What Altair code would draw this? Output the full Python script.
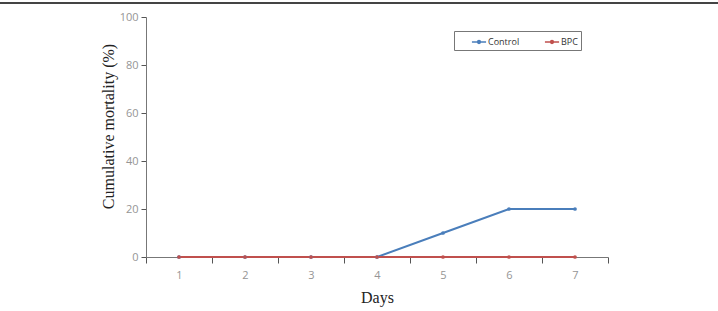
import altair as alt
import pandas as pd

days = [1, 2, 3, 4, 5, 6, 7]
control = [0, 0, 0, 0, 10, 20, 20]
bpc = [0, 0, 0, 0, 0, 0, 0]
series_names = ["Control", "BPC"]
colors = ["#4a7ebb", "#c0504d"]

rows = []
for d, c in zip(days, control):
    rows.append({"Days": str(d), "value": c, "series": "Control"})
for d, b in zip(days, bpc):
    rows.append({"Days": str(d), "value": b, "series": "BPC"})
df = pd.DataFrame(rows)

label_font = "Open Sans"
title_font = "Liberation Serif"

x = alt.X("Days:O", sort=[str(d) for d in days],
          scale=alt.Scale(type="band", paddingInner=0, paddingOuter=0),
          axis=alt.Axis(title="Days", labelAngle=0, tickBand="extent",
                        labelFont=label_font, labelFontSize=11, labelColor="#959595",
                        labelPadding=6, tickSize=6, tickColor="#555", domainColor="#777",
                        titleFont=title_font, titleFontSize=16, titleFontWeight="normal",
                        titleColor="#222", titleY=40, titleBaseline="middle", grid=False))
y = alt.Y("value:Q", scale=alt.Scale(domain=[0, 100]),
          axis=alt.Axis(title="Cumulative mortality (%)", values=[0, 20, 40, 60, 80, 100],
                        labelFont=label_font, labelFontSize=11, labelColor="#959595",
                        labelPadding=3, tickSize=5, tickColor="#555", domainColor="#777",
                        titleFont=title_font, titleFontSize=16, titleFontWeight="normal",
                        titleColor="#222", titleX=-38, titleY=109, titleAngle=270,
                        titleAlign="center", titleBaseline="middle", grid=False))

symbol_path = "M-1,0H1M-0.2,0A0.2,0.2 0 1,0 0.2,0A0.2,0.2 0 1,0 -0.2,0Z"

color = alt.Color("series:N", sort=series_names,
                  scale=alt.Scale(domain=series_names, range=colors),
                  legend=alt.Legend(title=None, orient="none", legendX=308, legendY=14,
                                    direction="horizontal", symbolType=symbol_path,
                                    symbolSize=200, symbolStrokeWidth=1.5,
                                    labelFont=label_font, labelFontSize=9, labelColor="#333",
                                    strokeColor="#777", padding=3, columnPadding=10,
                                    symbolOffset=14, labelOffset=1))

lines = alt.Chart(df).mark_line(strokeWidth=2, point=alt.OverlayMarkDef(size=14, filled=True)).encode(
    x=x, y=y, color=color, order=alt.Order("series:N", sort="descending"))

border = alt.Chart(alt.Data(values=[{}])).mark_rule(color="#444", strokeWidth=2).encode(
    x=alt.value(-146), x2=alt.value(572), y=alt.value(-14))

chart = alt.layer(lines, border).properties(
    width=462, height=240,
    autosize=alt.AutoSizeParams(type="none"),
    padding={"left": 146, "top": 17, "right": 110, "bottom": 54},
).configure(background="white").configure_view(stroke=None, strokeWidth=0)

chart.save("out.html", embed_options={"renderer": "svg", "actions": False})
